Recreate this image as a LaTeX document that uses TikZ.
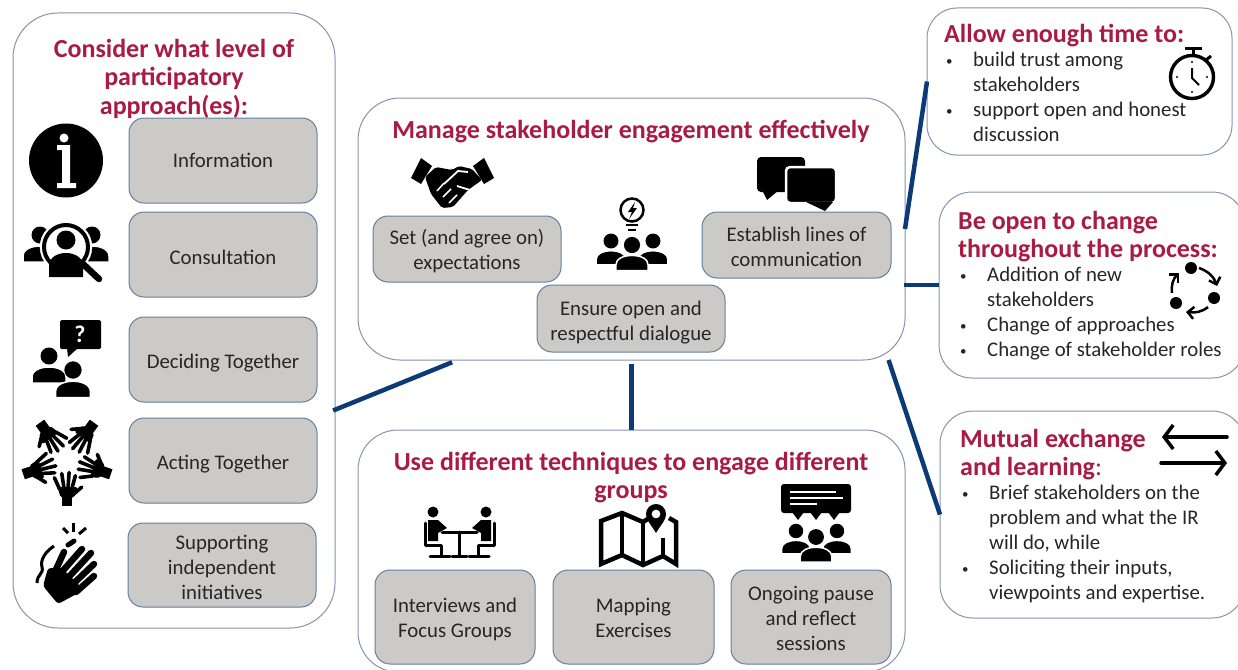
\documentclass[tikz,border=0pt]{standalone}
\usepackage{fontspec}
\setmainfont{Carlito}
\usepackage{xcolor}
\usepackage{tikz}
\usetikzlibrary{arrows.meta,positioning}
\definecolor{headred}{HTML}{A81C44}
\definecolor{panelline}{HTML}{8496AE}
\definecolor{greyfill}{HTML}{CBCAC7}
\definecolor{greyline}{HTML}{64809F}
\definecolor{linkblue}{HTML}{0C3A76}
\definecolor{bodyink}{HTML}{262626}
\newcommand{\bitem}[1]{\makebox[29pt][l]{\hspace{2pt}\raisebox{1pt}{\fontsize{13}{13}\selectfont\textbullet}}#1}
\newcommand{\bcont}[1]{\makebox[29pt][l]{}#1}
\newcommand{\toppad}[1]{\rule{0pt}{#1pt}}
\tikzset{
pics/person/.style={code={
\fill (0,0) circle (8.5);
\filldraw[draw=white, line width=1.5] (-17,27) -- (-17,21) .. controls (-17,14) and (-8,11) .. (0,11) .. controls (8,11) and (17,14) .. (17,21) -- (17,27) -- cycle;
}},
pics/hand/.style={code={
\fill (-5,21) rectangle (5,10);
\fill[rounded corners=2pt] (-9,3) -- (10,3) -- (7,13) -- (-6,13) -- cycle;
\draw[line width=3.6, line cap=round] (-7,5) -- (-12,-6);
\draw[line width=3.6, line cap=round] (-3,3) -- (-5,-10);
\draw[line width=3.6, line cap=round] (1,3) -- (2,-11);
\draw[line width=3.6, line cap=round] (5,3) -- (8,-8);
\draw[line width=3.6, line cap=round] (7,9) -- (14,3);
}}
}
\begin{document}
\begin{tikzpicture}[
x=1pt, y=-1pt,
panelbox/.style={draw=panelline, fill=white, line width=1pt, inner sep=0pt, outer sep=0pt},
greybox/.style={draw=greyline, fill=greyfill, line width=1pt, rounded corners=15pt, inner sep=0pt, outer sep=0pt, align=center, text=bodyink, font=\fontsize{20.8}{25}\selectfont},
headtext/.style={text=headred, align=center, inner sep=0pt, font=\fontsize{26}{28.5}\selectfont\bfseries},
bodytext/.style={text=bodyink, align=left, inner sep=0pt, anchor=north west, font=\fontsize{20.8}{25}\selectfont},
linkline/.style={draw=linkblue, line width=4.5pt},
iconline/.style={line width=3pt, line cap=round, line join=round}
]
\useasboundingbox (0,0) rectangle (1238,669);
\clip (0,0) rectangle (1238,669);
% Panels
%Nodes
\node[panelbox, rounded corners=45pt, minimum width=322pt, minimum height=615pt] (leftbox) at (174,320.5) {};
\node[panelbox, rounded corners=42pt, minimum width=547pt, minimum height=262pt] (mainbox) at (631.5,229) {};
\node[panelbox, rounded corners=40pt, minimum width=547pt, minimum height=242pt] (usebox) at (631.5,551) {};
\node[panelbox, rounded corners=30pt, minimum width=305pt, minimum height=147pt] (allowbox) at (1079.5,81.5) {};
\node[panelbox, rounded corners=33pt, minimum width=306pt, minimum height=186pt] (changebox) at (1092,285) {};
\node[panelbox, rounded corners=33pt, minimum width=305pt, minimum height=207pt] (mutualbox) at (1092.5,514.5) {};
%Lines
\draw[linkline, shorten <=-2pt, shorten >=6pt] (leftbox.-29) -- (mainbox.217.9);
\draw[linkline, shorten <=4pt] (mainbox.south) -- (usebox.north);
\draw[linkline] (mainbox.east) -- (allowbox.west);
\draw[linkline, shorten <=-1pt] (changebox.west -| mainbox.east) -- (changebox.west);
\draw[linkline] (mainbox.-27.4) -- (mutualbox.west);
% Headings
\node[headtext] (lefthead) at (174,78.5) {Consider what level of\\participatory\\approach(es):};
\node[headtext] (mainhead) at (631,132) {Manage stakeholder engagement effectively};
\node[headtext] (usehead) at (631,477.5) {Use different techniques to engage different\\groups};
\node[headtext, anchor=west] (allowhead) at (944,36) {Allow enough time to:};
\node[headtext, anchor=north west, align=left] (changehead) at (958,211) {Be open to change\\throughout the process:};
\node[headtext, anchor=north west, align=left] (mutualhead) at (960,429) {Mutual exchange\\and learning{\mdseries :}};
% Grey boxes
%Nodes
\node[greybox, minimum width=188pt, minimum height=85pt] (infobox) at (223,160.5) {Information};
\node[greybox, minimum width=188pt, minimum height=85pt] (consultbox) [below=9pt of infobox] {\toppad{20}Consultation};
\node[greybox, minimum width=188pt, minimum height=85pt] (decidebox) [below=20pt of consultbox] {\toppad{21}Deciding Together};
\node[greybox, minimum width=188pt, minimum height=85pt] (actbox) [below=16pt of decidebox] {\toppad{21}Acting Together};
\node[greybox, minimum width=188pt, minimum height=84pt] (supportbox) at (222,565) {\toppad{19}Supporting\\independent\\initiatives};
\node[greybox, minimum width=188pt, minimum height=66pt] (setbox) at (467,249) {\toppad{19}Set (and agree on)\\expectations};
\node[greybox, minimum width=189pt, minimum height=66pt] (linesbox) at (796.5,245) {\toppad{18}Establish lines of\\communication};
\node[greybox, minimum width=188pt, minimum height=67pt] (ensurebox) at (631,318.5) {\toppad{22}Ensure open and\\respectful dialogue};
\node[greybox, minimum width=160pt, minimum height=94pt] (interviewbox) at (455,617) {\toppad{19}Interviews and\\Focus Groups};
\node[greybox, minimum width=161pt, minimum height=94pt] (mapbox) [right=18pt of interviewbox] {\toppad{17}Mapping\\Exercises};
\node[greybox, minimum width=160pt, minimum height=94pt] (pausebox) [right=17pt of mapbox] {\toppad{17}Ongoing pause\\and reflect\\sessions};
% Bullet lists
\node[bodytext] (allowtext) at (944,52) {\bitem{build trust among}\\\bcont{stakeholders}\\\bitem{support open and honest}\\\bcont{discussion}};
\node[bodytext] (changetext) at (958,266.5) {\bitem{Addition of new}\\\bcont{stakeholders}\\\bitem{Change of approaches}\\\bitem{Change of stakeholder roles}};
\node[bodytext] (mutualtext) at (960,484.5) {\bitem{Brief stakeholders on the}\\\bcont{problem and what the IR}\\\bcont{will do, while}\\\bitem{Soliciting their inputs,}\\\bcont{viewpoints and expertise.}};
% Icons, left column
\fill (66,160.5) circle (37);
\fill[white] (64,138) circle (4.5);
\fill[white] (57,145) -- (70,145) -- (70,183) -- (76,183) -- (76,188) -- (57,188) -- (57,183) -- (62,183) -- (62,150) -- (57,150) -- cycle;
\pic at (40,235) {person};
\pic at (92,235) {person};
\filldraw[draw=white, fill=white] (66,247) circle (26);
\draw[line width=4pt] (66,247) circle (22);
\fill (66,240) circle (9.5);
\fill (49,277) -- (49,266) .. controls (49,257) and (58,253) .. (66,253) .. controls (74,253) and (83,257) .. (83,266) -- (83,277) -- cycle;
\draw[line width=6.5pt, line cap=round] (83,264) -- (99,279);
\fill[rounded corners=1.5pt] (60,320) rectangle (101,349);
\fill (67,348) -- (78,348) -- (68,357) -- cycle;
\node[text=white, inner sep=0pt, font=\fontsize{24}{24}\selectfont\bfseries] (askmark) at (80,334) {?};
\pic at (49,356) {person};
\pic[scale=1.02] at (73,370) {person};
\begin{scope}[shift={(67,460)}]
\foreach \ang in {0,72,...,288}{
\begin{scope}[rotate=\ang]
\pic[transform shape, scale=1.05] at (0,24) {hand};
\end{scope}
}
\end{scope}
\draw[line width=3pt] (63,528) -- (68,533);
\draw[line width=3pt] (73,523) -- (73,532);
\draw[line width=3pt] (86,528) -- (79,534);
\fill[rounded corners=3pt] (58,604) -- (43,586) -- (48,568) -- (62,568) -- (84,590) -- cycle;
\draw[line width=6.5pt, line cap=round] (53,576) -- (64,552);
\draw[line width=6.5pt, line cap=round] (60,574) -- (82,549);
\draw[line width=6.5pt, line cap=round] (66,580) -- (91,553);
\draw[line width=6.5pt, line cap=round] (71,586) -- (94,564);
\draw[line width=6.5pt, line cap=round] (76,592) -- (94,576);
\draw[line width=5pt, line cap=round] (68,545) -- (74,541);
\draw[line width=3pt] (54,546) .. controls (45,552) and (40,560) .. (42,567) .. controls (44,574) and (37,574) .. (37,583);
% Icons, main panel
\fill (411,178) -- (421,158) -- (432,166) -- (421,184) -- cycle;
\fill (494,178) -- (484,158) -- (473,166) -- (484,184) -- cycle;
\fill[rounded corners=2pt] (425,177) -- (436,167) -- (452,170) -- (459,166) -- (472,169) -- (482,180) -- (468,190) -- (453,207) -- (442,208) -- (431,194) -- cycle;
\draw[white, line width=1.8pt, line join=round] (444,184) -- (458,171) -- (468,172);
\draw[white, line width=1.8pt] (457,186) -- (470,190);
\draw[white, line width=1.5pt] (437,191) -- (444,183);
\draw[white, line width=1.5pt] (443,197) -- (451,189);
\draw[white, line width=1.5pt] (449,203) -- (457,195);
\draw[line width=2.5pt] (632,210) circle (11.5);
\fill (635,202) -- (628,212) -- (632,212) -- (629,219) -- (637,208) -- (633,208) -- cycle;
\draw[line width=2pt] (626,225) -- (638,225);
\draw[line width=2pt] (628,230) -- (636,230);
\pic[scale=0.88] at (611,241) {person};
\pic[scale=0.88] at (653,241) {person};
\pic[scale=0.95] at (632,245) {person};
\fill[rounded corners=4pt] (757,157) rectangle (805,192);
\fill (762,190) -- (779,190) -- (767,200) -- cycle;
\filldraw[draw=white, line width=2.5pt, rounded corners=4pt] (786,167) rectangle (836,203);
\fill (806,202) -- (833,202) -- (825,211) -- cycle;
% Icons, bottom panel
\fill (433,512) circle (5.5);
\fill (486,512) circle (5.5);
\draw[iconline] (425,523) -- (425,545) -- (441,545) -- (441,555);
\draw[iconline] (494,523) -- (494,545) -- (478,545) -- (478,555);
\draw[iconline] (430,556) -- (450,556);
\draw[iconline] (469,556) -- (489,556);
\fill (428,520) -- (438,520) -- (447,528) -- (438,533) -- (438,541) -- (428,541) -- cycle;
\fill (491,520) -- (481,520) -- (472,528) -- (481,533) -- (481,541) -- (491,541) -- cycle;
\draw[iconline] (442,532) -- (477,532);
\draw[iconline] (459.5,532) -- (459.5,555) ;
\draw[iconline] (452,556) -- (467,556);
\draw[line width=4.5pt, line join=miter] (651,517) -- (643,522) -- (622,513) -- (601,521) -- (601,564) -- (622,555) -- (643,565) -- (663,556) -- (676,564) -- (676,522) -- (669,518);
\draw[line width=4pt] (622,513) -- (622,555);
\draw[line width=4pt] (643,522) -- (643,565);
\draw[line width=4pt] (663,538) -- (663,556);
\fill[even odd rule] (656,533) .. controls (650,523) and (646,520) .. (646,514) .. controls (646,508) and (651,504) .. (656,504) .. controls (661,504) and (666,508) .. (666,514) .. controls (666,520) and (662,523) .. (656,533) -- cycle (656,514) circle (4.5);
\fill[rounded corners=3pt] (781,484) rectangle (851,513);
\fill (792,512) -- (804,512) -- (798,520) -- cycle;
\fill (810,512) -- (822,512) -- (816,520) -- cycle;
\fill (828,512) -- (840,512) -- (834,520) -- cycle;
\draw[white, line width=1.2pt] (790,492) -- (836,492);
\draw[white, line width=1.2pt] (790,498) -- (843,498);
\draw[white, line width=1.2pt] (790,504) -- (817,504);
\pic[scale=0.85] at (796,531) {person};
\pic[scale=0.85] at (837,531) {person};
\pic[scale=0.93] at (816,537) {person};
% Icons, right panels
\draw[line width=3.4pt] (1192,77) circle (21.5);
\draw[line width=3pt] (1185,49) -- (1202,49);
\draw[line width=3pt] (1193,49) -- (1193,55);
\draw[line width=3pt] (1206,60) -- (1211,56);
\draw[line width=2pt, line join=round] (1192,68) -- (1192,78) -- (1199,85);
\foreach \dotx/\doty in {1192/62,1207/77,1192/92,1177/77}{
\fill (\dotx,\doty) circle (1.2);
}
\fill (1191,268) circle (6);
\fill (1214,298) circle (6);
\fill (1176,303) circle (6);
\draw[line width=2.5pt, -{Straight Barb[length=6pt,width=12pt]}] (1199,268) .. controls (1208,271) and (1214,277) .. (1217,286);
\draw[line width=2.5pt, -{Straight Barb[length=6pt,width=12pt]}] (1208,307) .. controls (1202,312) and (1195,313) .. (1186,312);
\draw[line width=2.5pt, -{Straight Barb[length=6pt,width=12pt]}] (1172,293) .. controls (1171,285) and (1173,279) .. (1179,273);
\draw[line width=3.5pt, line cap=round, -{Straight Barb[length=9pt,width=24pt]}] (1227,437) -- (1162,437);
\draw[line width=3.5pt, line cap=round, -{Straight Barb[length=9pt,width=24pt]}] (1161,463) -- (1227,463);
\end{tikzpicture}
\end{document}
